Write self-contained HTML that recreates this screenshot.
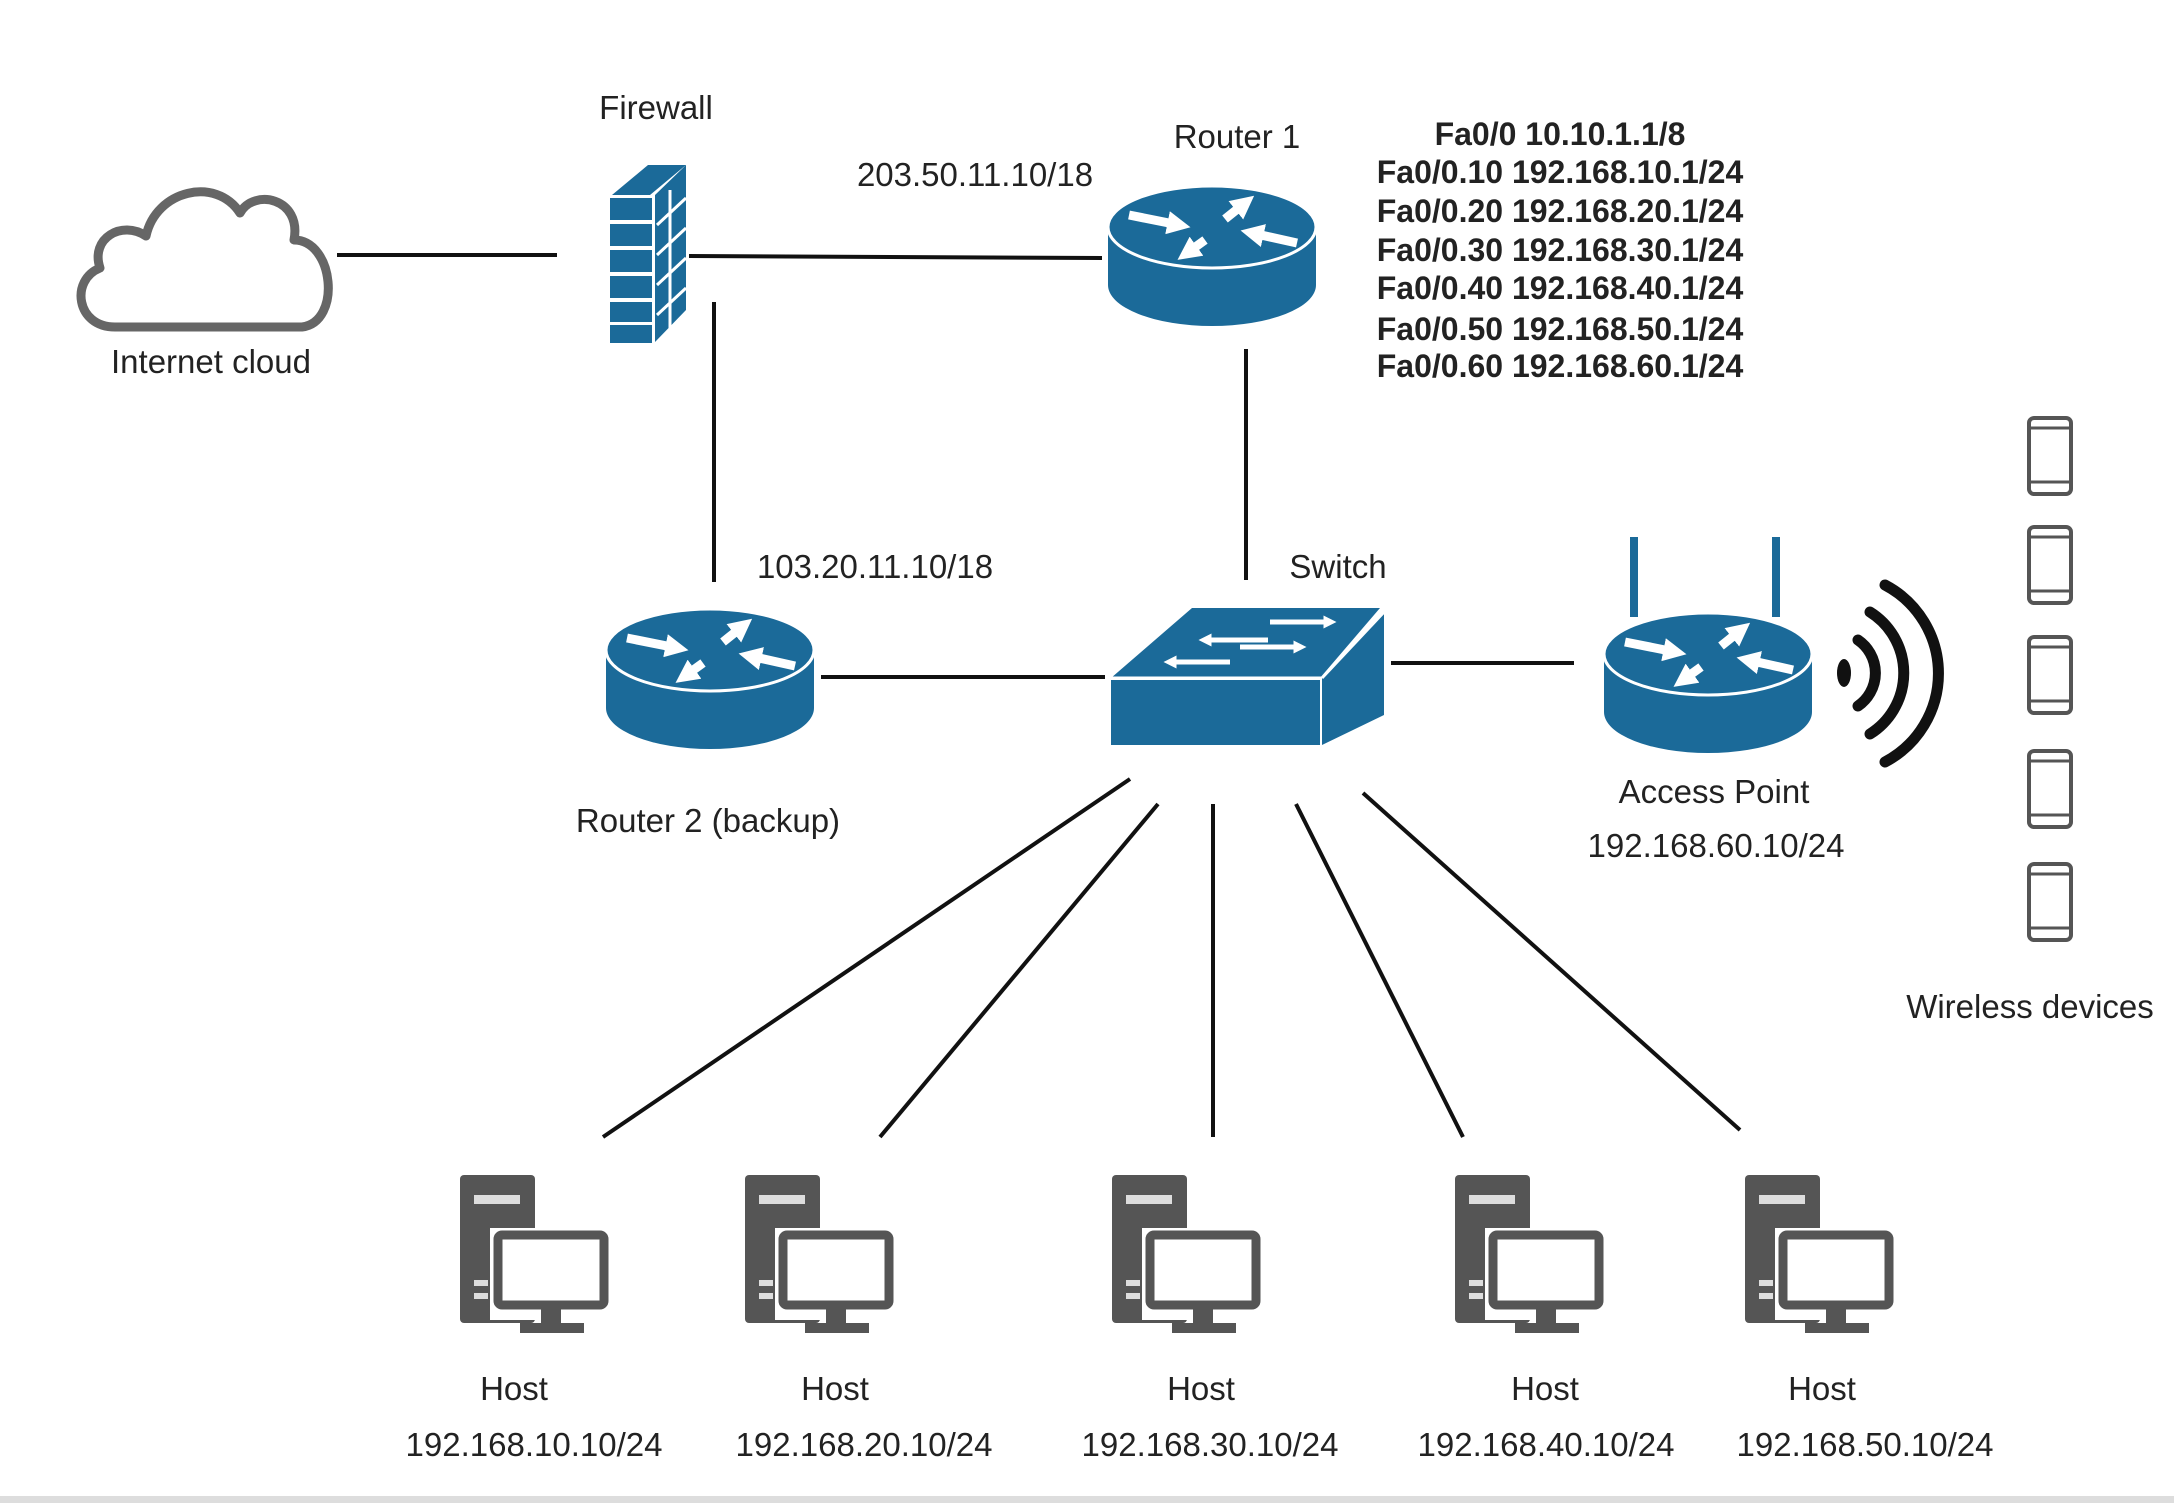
<!DOCTYPE html>
<html><head><meta charset="utf-8"><style>
html,body{margin:0;padding:0;background:#fff;}
svg{display:block;}
text{font-family:"Liberation Sans",sans-serif;fill:#222;}
</style></head><body>
<svg width="2174" height="1503" viewBox="0 0 2174 1503" xmlns="http://www.w3.org/2000/svg">
<defs>
<marker id="ah" viewBox="0 0 10 10" refX="5" refY="5" markerWidth="2.6" markerHeight="2.6" orient="auto"><path d="M0,0 L10,5 L0,10 z" fill="#fff"/></marker>
<g id="router">
  <ellipse cx="105" cy="100" rx="104" ry="41" fill="#1b6a99"/>
  <rect x="1" y="42" width="208" height="58" fill="#1b6a99"/>
  <ellipse cx="105" cy="42" rx="104" ry="41" fill="#1b6a99" stroke="#fff" stroke-width="3"/>
  <g stroke="#fff" stroke-width="9" marker-end="url(#ah)">
    <line x1="22" y1="30" x2="72" y2="40"/>
    <line x1="118" y1="34" x2="138" y2="18"/>
    <line x1="190" y1="58" x2="145" y2="48"/>
    <line x1="98" y1="55" x2="80" y2="68"/>
  </g>
</g>
<g id="host" fill="#555">
  <rect x="0" y="0" width="75" height="148" rx="4"/>
  <rect x="14" y="20" width="46" height="9" fill="#ddd"/>
  <rect x="14" y="105" width="14" height="6" fill="#ddd"/>
  <rect x="14" y="118" width="14" height="6" fill="#ddd"/>
  <rect x="30" y="53" width="118" height="92" fill="#fff"/>
  <rect x="38" y="60" width="106" height="70" rx="4" fill="#fff" stroke="#555" stroke-width="9"/>
  <rect x="81" y="134" width="20" height="16"/>
  <rect x="60" y="148" width="64" height="10"/>
</g>
<g id="phone">
  <rect x="2" y="2" width="42" height="76" rx="5" fill="#fff" stroke="#555" stroke-width="4"/>
  <line x1="4" y1="12" x2="42" y2="12" stroke="#555" stroke-width="3"/>
  <line x1="4" y1="66" x2="42" y2="66" stroke="#555" stroke-width="3"/>
</g>
</defs>

<g stroke="#111" stroke-width="4" fill="none">
  <line x1="337" y1="255" x2="557" y2="255"/>
  <line x1="689" y1="256" x2="1102" y2="258"/>
  <line x1="714" y1="302" x2="714" y2="582"/>
  <line x1="1246" y1="349" x2="1246" y2="580"/>
  <line x1="821" y1="677" x2="1105" y2="677"/>
  <line x1="1391" y1="663" x2="1574" y2="663"/>
  <line x1="1130" y1="779" x2="603" y2="1137"/>
  <line x1="1158" y1="804" x2="880" y2="1137"/>
  <line x1="1213" y1="804" x2="1213" y2="1137"/>
  <line x1="1296" y1="804" x2="1463" y2="1137"/>
  <line x1="1363" y1="793" x2="1740" y2="1130"/>
</g>

<path d="M115,327 C76,327 70,280 100,268 C90,238 122,220 146,236 C156,190 216,176 240,213 C254,188 302,198 294,240 C334,240 342,322 302,327 Z" fill="#fff" stroke="#666" stroke-width="9" stroke-linejoin="round"/>

<g fill="#1b6a99">
  <polygon points="612,195 650,195 686,165 648,165"/>
  <polygon points="655,195 686,165 686,310 655,342"/>
  <rect x="610" y="198" width="42" height="22"/><rect x="610" y="224" width="42" height="22"/><rect x="610" y="250" width="42" height="22"/>
  <rect x="610" y="276" width="42" height="22"/><rect x="610" y="302" width="42" height="20"/><rect x="610" y="325" width="42" height="18"/>
</g>
<g stroke="#fff" stroke-width="3"><line x1="657" y1="225" x2="686" y2="198"/><line x1="657" y1="255" x2="686" y2="228"/><line x1="657" y1="285" x2="686" y2="258"/><line x1="657" y1="315" x2="686" y2="288"/><line x1="670" y1="190" x2="670" y2="330"/></g>

<use href="#router" x="1107" y="185"/>
<use href="#router" x="605" y="608"/>

<polygon points="1111,678 1192,608 1380,608 1320,678" fill="#1b6a99"/>
<polygon points="1322,678 1384,614 1384,715 1322,745" fill="#1b6a99"/>
<rect x="1111" y="680" width="209" height="65" fill="#1b6a99"/>
<line x1="1111" y1="678" x2="1322" y2="678" stroke="#fff" stroke-width="3"/>
<line x1="1322" y1="678" x2="1384" y2="612" stroke="#fff" stroke-width="3"/>
<g stroke="#fff" stroke-width="5" marker-end="url(#ah)">
  <line x1="1270" y1="622" x2="1330" y2="622"/>
  <line x1="1268" y1="640" x2="1205" y2="640"/>
  <line x1="1240" y1="647" x2="1300" y2="647"/>
  <line x1="1230" y1="662" x2="1170" y2="662"/>
</g>

<rect x="1630" y="537" width="8" height="80" fill="#1b6a99"/>
<rect x="1772" y="537" width="8" height="80" fill="#1b6a99"/>
<use href="#router" x="1603" y="612"/>
<ellipse cx="1844" cy="673" rx="7" ry="14" fill="#111"/>
<g stroke="#111" stroke-width="11" fill="none" stroke-linecap="round">
  <path d="M1858,640 A40,40 0 0 1 1858,706"/>
  <path d="M1870,612 A72,72 0 0 1 1870,734"/>
  <path d="M1885,585 A100,100 0 0 1 1885,762"/>
</g>

<use href="#phone" x="2027" y="416"/>
<use href="#phone" x="2027" y="525"/>
<use href="#phone" x="2027" y="635"/>
<use href="#phone" x="2027" y="749"/>
<use href="#phone" x="2027" y="862"/>

<use href="#host" x="460" y="1175"/>
<use href="#host" x="745" y="1175"/>
<use href="#host" x="1112" y="1175"/>
<use href="#host" x="1455" y="1175"/>
<use href="#host" x="1745" y="1175"/>

<g font-size="33" text-anchor="middle">
  <text x="211" y="373">Internet cloud</text>
  <text x="656" y="119">Firewall</text>
  <text x="975" y="186">203.50.11.10/18</text>
  <text x="1237" y="148">Router 1</text>
  <text x="875" y="578">103.20.11.10/18</text>
  <text x="1338" y="578">Switch</text>
  <text x="708" y="832">Router 2 (backup)</text>
  <text x="1714" y="803">Access Point</text>
  <text x="1716" y="857">192.168.60.10/24</text>
  <text x="2030" y="1018">Wireless devices</text>
  <text x="514" y="1400">Host</text><text x="534" y="1456">192.168.10.10/24</text>
  <text x="835" y="1400">Host</text><text x="864" y="1456">192.168.20.10/24</text>
  <text x="1201" y="1400">Host</text><text x="1210" y="1456">192.168.30.10/24</text>
  <text x="1545" y="1400">Host</text><text x="1546" y="1456">192.168.40.10/24</text>
  <text x="1822" y="1400">Host</text><text x="1865" y="1456">192.168.50.10/24</text>
</g>
<g font-size="32" font-weight="bold" text-anchor="middle">
  <text x="1560" y="145">Fa0/0 10.10.1.1/8</text>
  <text x="1560" y="183">Fa0/0.10 192.168.10.1/24</text>
  <text x="1560" y="222">Fa0/0.20 192.168.20.1/24</text>
  <text x="1560" y="261">Fa0/0.30 192.168.30.1/24</text>
  <text x="1560" y="299">Fa0/0.40 192.168.40.1/24</text>
  <text x="1560" y="340">Fa0/0.50 192.168.50.1/24</text>
  <text x="1560" y="377">Fa0/0.60 192.168.60.1/24</text>
</g>
<rect x="0" y="1496" width="2174" height="7" fill="#ddd"/>
</svg>
</body></html>
